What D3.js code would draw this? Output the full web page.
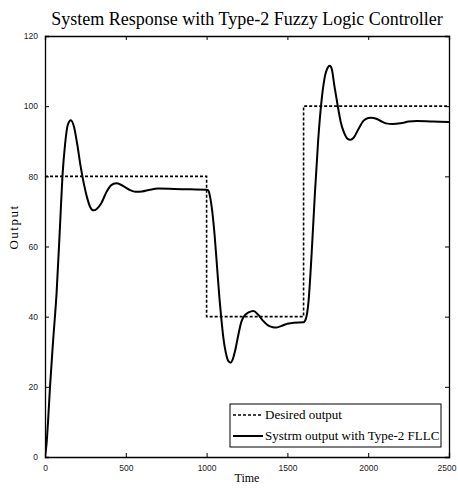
<!DOCTYPE html>
<html><head><meta charset="utf-8">
<script src="https://cdn.jsdelivr.net/npm/d3@7/dist/d3.min.js"></script>
<style>body{margin:0;background:#fff}</style>
</head><body>
<svg id="c" width="458" height="494"></svg>
<script>
const titleText = "System Response with Type-2 Fuzzy Logic Controller";
const xLabel = "Time";
const yLabel = "Output";
const xTicks = [0, 500, 1000, 1500, 2000, 2500];
const yTicks = [0, 20, 40, 60, 80, 100, 120];
const legendLabels = ["Desired output", "Systrm output with Type-2 FLLC"];

// desired output (step reference)
const desiredT = [0, 1000, 1000, 1600, 1600, 2500];
const desiredY = [80, 80, 40, 40, 100, 100];

// system output
const outT = [0, 10, 20, 31, 50, 72, 93, 108, 125, 140, 160, 180, 200, 220, 240, 260, 280, 300, 320, 350, 380, 410, 440, 470, 500, 530, 560, 600, 650, 700, 800, 900, 1000,
  1010, 1020, 1035, 1050, 1065, 1080, 1090, 1105, 1120, 1135, 1148, 1160, 1175, 1195, 1215, 1230, 1260, 1290, 1320, 1350, 1380, 1410, 1430, 1460, 1500, 1540, 1600,
  1615, 1630, 1650, 1670, 1690, 1710, 1730, 1750, 1762, 1775, 1790, 1810, 1830, 1850, 1870, 1890, 1910, 1940, 1970, 2000, 2020, 2050, 2080, 2110, 2150, 2200, 2250, 2300, 2400, 2500];
const outY = [0, 4, 11, 20, 33, 47, 66, 80, 89.5, 94.5, 96, 94, 89, 83, 78, 74, 71.2, 70.3, 70.7, 72.5, 75.5, 77.5, 78, 77.6, 76.8, 76, 75.6, 75.7, 76.2, 76.5, 76.4, 76.3, 76.2,
  76.0, 74.5, 70, 63, 54, 45, 40, 33.5, 29.5, 27.3, 26.9, 27.6, 30, 34.5, 38.5, 40, 41.2, 41.6, 40.5, 38.8, 37.5, 37.0, 36.9, 37.3, 38.0, 38.3, 38.4,
  39.5, 44, 58, 75, 90, 101, 108, 111, 111.5, 110.5, 106, 100.5, 95.5, 92.5, 90.8, 90.4, 91, 93.5, 95.8, 96.6, 96.7, 96.4, 95.7, 95.1, 94.9, 95.1, 95.6, 95.8, 95.6, 95.5];

const svg = d3.select("#c");
const L = 45, R = 449, T = 36, B = 457;
const x = d3.scaleLinear().domain([0, 2500]).range([L, R]);
const y = d3.scaleLinear().domain([0, 120]).range([B, T]);

// title
svg.append("text").attr("x", 247).attr("y", 25).attr("text-anchor", "middle")
  .attr("font-family", "Liberation Serif").attr("font-size", 18).text(titleText);

const tickFont = "Liberation Sans";
// axes (inward ticks, MATLAB style)
const gx = svg.append("g").attr("transform", `translate(0,${B})`)
  .call(d3.axisBottom(x).tickValues(xTicks).tickSize(-4).tickPadding(8).tickFormat(d3.format("d")));
const gxt = svg.append("g").attr("transform", `translate(0,${T})`)
  .call(d3.axisTop(x).tickValues(xTicks).tickSize(-4).tickFormat(""));
const gy = svg.append("g").attr("transform", `translate(${L},0)`)
  .call(d3.axisLeft(y).tickValues(yTicks).tickSize(-4).tickPadding(7).tickFormat(d3.format("d")));
const gyr = svg.append("g").attr("transform", `translate(${R},0)`)
  .call(d3.axisRight(y).tickValues(yTicks).tickSize(-4).tickFormat(""));
[gx, gxt, gy, gyr].forEach(g => {
  g.select(".domain").attr("stroke", "#000").attr("stroke-width", 1.3);
  g.selectAll(".tick line").attr("stroke", "#000");
  g.selectAll("text").attr("font-family", tickFont).attr("font-size", 8.5).attr("fill", "#222");
});
gx.selectAll(".tick text").filter(d => d === 2500).attr("dx", -2.5);

// axis labels
svg.append("text").attr("x", 247).attr("y", 482).attr("text-anchor", "middle")
  .attr("font-family", "Liberation Serif").attr("font-size", 12).text(xLabel);
svg.append("text").attr("transform", "translate(18,227) rotate(-90)").attr("text-anchor", "middle")
  .attr("font-family", "Liberation Serif").attr("font-size", 13).attr("letter-spacing", 1.5).text(yLabel);

svg.append("clipPath").attr("id", "cp").append("rect")
  .attr("x", L).attr("y", T).attr("width", R - L).attr("height", B - T);

const line = d3.line().x(d => x(d[0])).y(d => y(d[1]));
const desired = desiredT.map((t, i) => [t, desiredY[i]]);
const out = outT.map((t, i) => [t, outY[i]]);
const smooth = d3.line().x(d => x(d[0])).y(d => y(d[1])).curve(d3.curveMonotoneX);

svg.append("path").attr("d", line(desired)).attr("fill", "none").attr("stroke", "#000")
  .attr("stroke-width", 1.6).attr("stroke-dasharray", "3,2").attr("clip-path", "url(#cp)");
svg.append("path").attr("d", smooth(out)).attr("fill", "none").attr("stroke", "#000")
  .attr("stroke-width", 2).attr("clip-path", "url(#cp)");

// legend
const lg = svg.append("g");
lg.append("rect").attr("x", 230).attr("y", 404).attr("width", 211).attr("height", 43)
  .attr("fill", "#fff").attr("stroke", "#000").attr("stroke-width", 1);
lg.append("line").attr("x1", 233).attr("x2", 263).attr("y1", 415).attr("y2", 415)
  .attr("stroke", "#000").attr("stroke-width", 1.6).attr("stroke-dasharray", "3,2");
lg.append("line").attr("x1", 233).attr("x2", 263).attr("y1", 436).attr("y2", 436)
  .attr("stroke", "#000").attr("stroke-width", 2);
lg.selectAll("text.l").data(legendLabels).enter().append("text")
  .attr("x", 265).attr("y", (d, i) => 419 + i * 21)
  .attr("font-family", "Liberation Serif").attr("font-size", 13).text(d => d);
</script>
</body></html>
